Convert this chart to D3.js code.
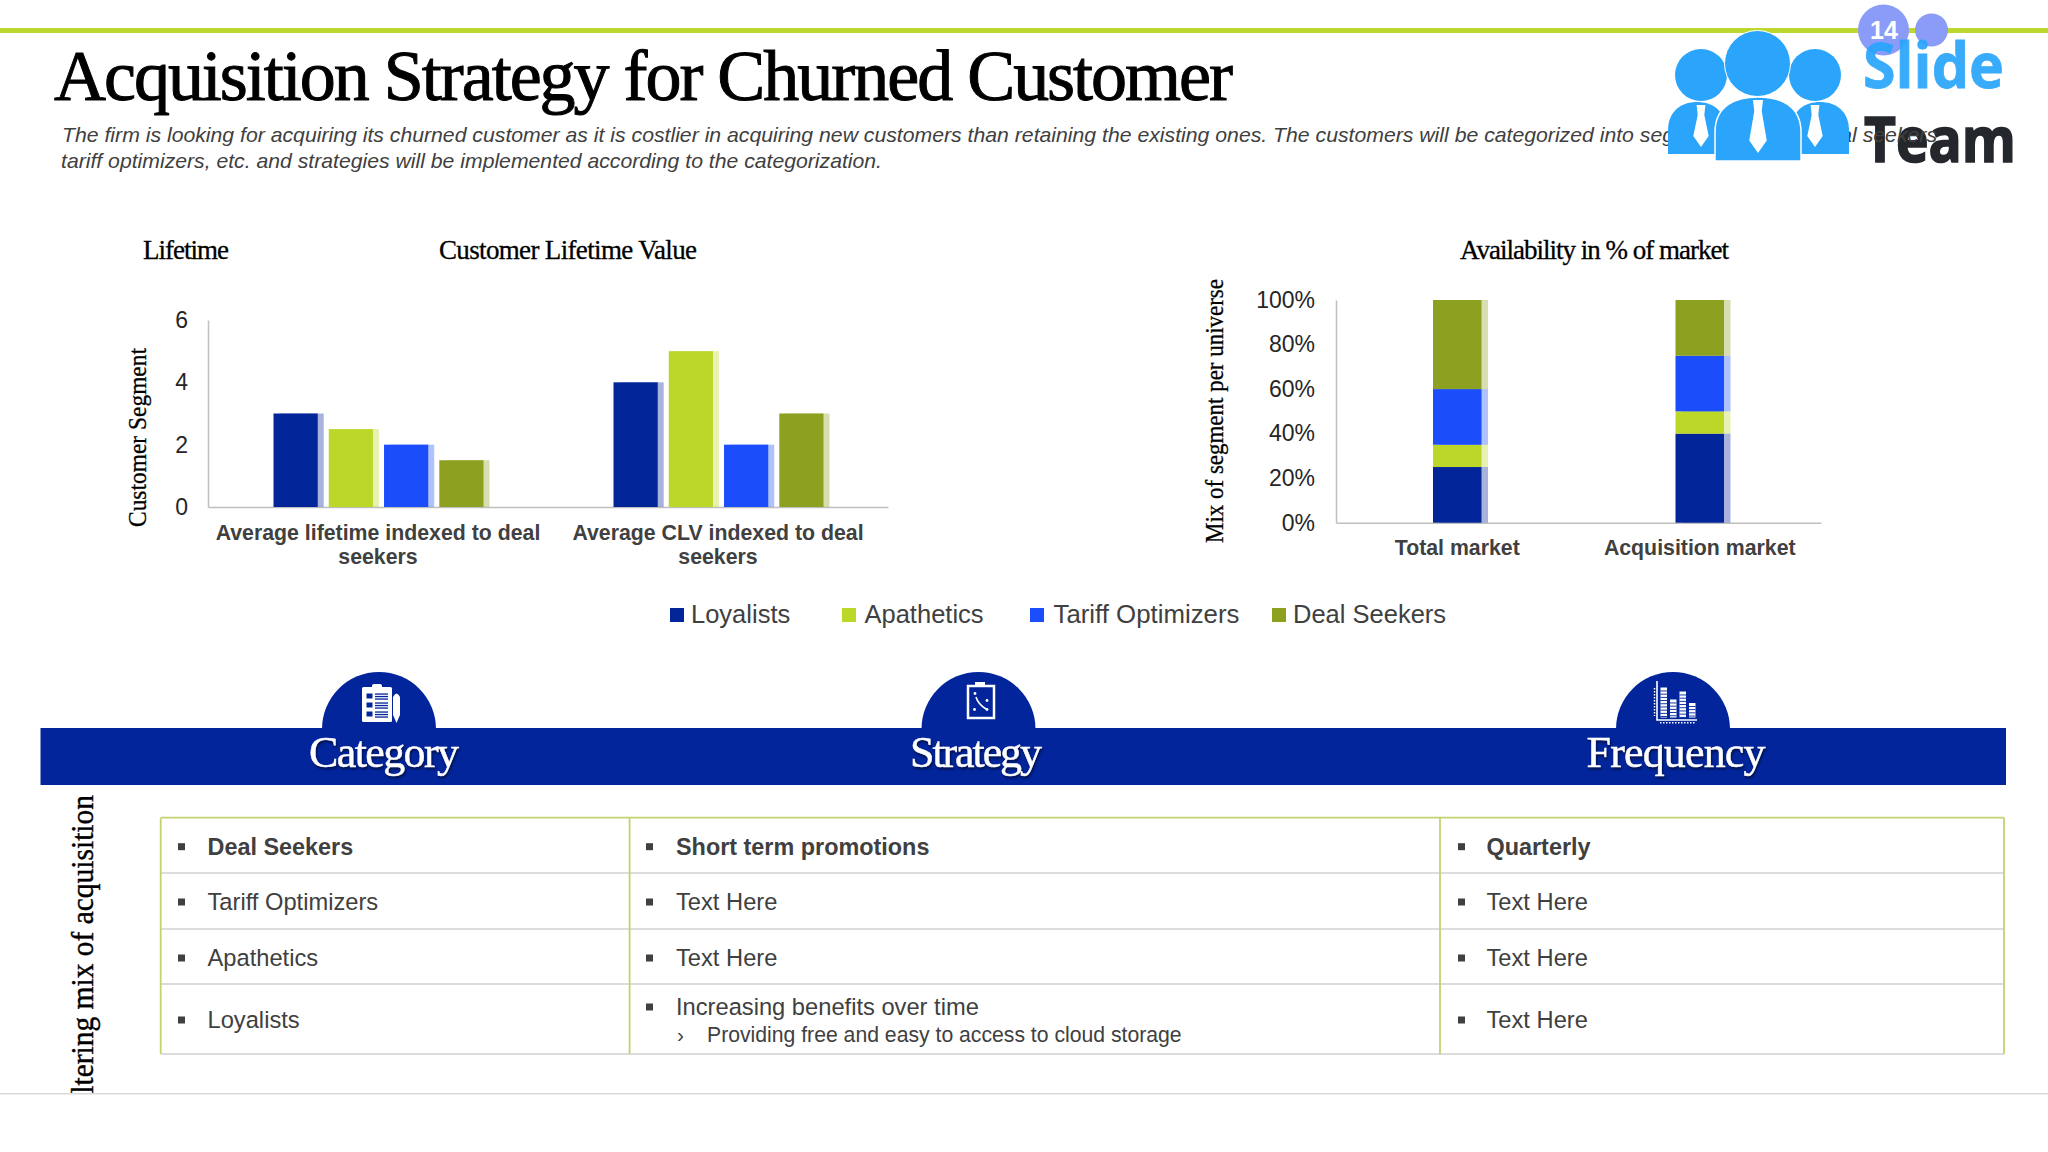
<!DOCTYPE html>
<html>
<head>
<meta charset="utf-8">
<script src="https://d3js.org/d3.v7.min.js"></script>
<style>
  body { margin: 0; background: #fff; }
  svg { display: block; }
  text { font-family: "Liberation Sans", sans-serif; }
  .serif { font-family: "Liberation Serif", serif; }
</style>
</head>
<body>
<div id="slide"></div>
<script>
var w = 2048, h = 1152;

// data
var segments = ["Loyalists", "Apathetics", "Tariff Optimizers", "Deal Seekers"];
var segmentColors = ["#02259a", "#bdd729", "#1b4dfb", "#8ea01f"];

var lifetimeCategories = ["Average lifetime indexed to deal seekers", "Average CLV indexed to deal seekers"];
var loyalistsIndex = [3, 4];
var apatheticsIndex = [2.5, 5];
var tariffIndex = [2, 2];
var dealIndex = [1.5, 3];
var lifetimeTicks = [0, 2, 4, 6];

var marketCategories = ["Total market", "Acquisition market"];
var loyalistsMix = [25, 40];
var apatheticsMix = [10, 10];
var tariffMix = [25, 25];
var dealMix = [40, 25];
var mixTicks = [0, 20, 40, 60, 80, 100];

var tableHeads = ["Category", "Strategy", "Frequency"];
var categoryRows = ["Deal Seekers", "Tariff Optimizers", "Apathetics", "Loyalists"];
var strategyRows = ["Short term promotions", "Text Here", "Text Here", "Increasing benefits over time"];
var frequencyRows = ["Quarterly", "Text Here", "Text Here", "Text Here"];

var svg = d3.select("#slide").append("svg").attr("width", w).attr("height", h);

// top rule
svg.append("rect").attr("x", 0).attr("y", 28).attr("width", w).attr("height", 5).attr("fill", "#bdd72f");

// page number bubbles
svg.append("circle").attr("cx", 1883.5).attr("cy", 30).attr("r", 25.5).attr("fill", "#8a9cf8");
svg.append("circle").attr("cx", 1931.5).attr("cy", 30).attr("r", 16.5).attr("fill", "#8a9cf8");

// logo words (Team sits under the subtitle)
svg.append("text").attr("x", 1863).attr("y", 88).text("Slide")
  .attr("textLength", 141).attr("lengthAdjust", "spacingAndGlyphs")
  .style("font-family", "'Open Sans'").style("font-weight", 700).style("font-size", "62px")
  .attr("fill", "#2aa5fb").attr("stroke", "#2aa5fb").attr("stroke-width", 0.8).attr("opacity", 0.93);
svg.append("text").attr("x", 1864).attr("y", 162).text("Team")
  .attr("textLength", 152).attr("lengthAdjust", "spacingAndGlyphs")
  .style("font-family", "'Open Sans'").style("font-weight", 700).style("font-size", "62px")
  .attr("fill", "#24272c").attr("stroke", "#24272c").attr("stroke-width", 1.6);
svg.append("text").attr("x", 1884).attr("y", 39).attr("text-anchor", "middle").text("14")
  .style("font-weight", 700).style("font-size", "25px").attr("fill", "#fff");

// title + subtitle
svg.append("text").attr("class", "serif").attr("x", 54).attr("y", 100).text("Acquisition Strategy for Churned Customer")
  .attr("textLength", 1179).attr("lengthAdjust", "spacing")
  .style("font-size", "72px").attr("fill", "#000").attr("stroke", "#000").attr("stroke-width", 1);
svg.append("text").attr("x", 62).attr("y", 142)
  .text("The firm is looking for acquiring its churned customer as it is costlier in acquiring new customers than retaining the existing ones. The customers will be categorized into segments such as deal seekers")
  .attr("textLength", 1875).attr("lengthAdjust", "spacingAndGlyphs")
  .style("font-size", "21px").style("font-style", "italic").attr("fill", "#404040");
svg.append("text").attr("x", 61).attr("y", 168)
  .text("tariff optimizers, etc. and strategies will be implemented according to the categorization.")
  .attr("textLength", 821).attr("lengthAdjust", "spacingAndGlyphs")
  .style("font-size", "21px").style("font-style", "italic").attr("fill", "#404040");

// logo people
var logo = svg.append("g").attr("fill", "#2aa5fb");
logo.append("circle").attr("cx", 1701).attr("cy", 75).attr("r", 26);
logo.append("circle").attr("cx", 1815).attr("cy", 75).attr("r", 26);
function body(cx, halfW, top, bottom) {
  return "M" + (cx - halfW) + "," + bottom + " L" + (cx - halfW) + "," + (top + (bottom - top) * 0.55)
    + " C" + (cx - halfW) + "," + (top + 8) + " " + (cx - halfW * 0.5) + "," + top + " " + cx + "," + top
    + " C" + (cx + halfW * 0.5) + "," + top + " " + (cx + halfW) + "," + (top + 8) + " " + (cx + halfW) + "," + (top + (bottom - top) * 0.55)
    + " L" + (cx + halfW) + "," + bottom + " Z";
}
function tie(cx, top, bottom, s) {
  return "M" + (cx - 4 * s) + "," + top + " L" + (cx + 4 * s) + "," + top + " L" + (cx + 3 * s) + "," + (top + 9 * s)
    + " L" + (cx + 7 * s) + "," + (bottom - 10 * s) + " L" + cx + "," + bottom + " L" + (cx - 7 * s) + "," + (bottom - 10 * s)
    + " L" + (cx - 3 * s) + "," + (top + 9 * s) + " Z";
}
logo.append("path").attr("d", body(1697, 29, 102, 154));
logo.append("path").attr("d", body(1820, 29, 102, 154));
logo.append("path").attr("d", tie(1701, 105, 147, 1.1)).attr("fill", "#fff");
logo.append("path").attr("d", tie(1815, 105, 147, 1.1)).attr("fill", "#fff");
logo.append("circle").attr("cx", 1757.5).attr("cy", 63.5).attr("r", 33).attr("stroke", "#fff").attr("stroke-width", 1);
logo.append("path").attr("d", body(1758, 43, 97, 161)).attr("stroke", "#fff").attr("stroke-width", 1.5);
logo.append("path").attr("d", tie(1758, 100, 153, 1.25)).attr("fill", "#fff");

// chart titles
function chartTitle(x, txt, len) {
  svg.append("text").attr("class", "serif").attr("x", x).attr("y", 259).text(txt)
    .attr("textLength", len).attr("lengthAdjust", "spacing")
    .style("font-size", "27px").attr("fill", "#000").attr("stroke", "#000").attr("stroke-width", 0.3);
}
chartTitle(143, "Lifetime", 86);
chartTitle(439, "Customer Lifetime Value", 258);
chartTitle(1460, "Availability in % of market", 269);

function axisTitle(x, yTop, yBottom, txt, size) {
  svg.append("text").attr("class", "serif")
    .attr("transform", "translate(" + x + "," + yBottom + ") rotate(-90)").text(txt)
    .attr("textLength", yBottom - yTop).attr("lengthAdjust", "spacingAndGlyphs")
    .style("font-size", size + "px").attr("fill", "#000").attr("stroke", "#000").attr("stroke-width", 0.3);
}
axisTitle(146, 348, 527, "Customer Segment", 26);
axisTitle(1223, 279, 543, "Mix of segment per universe", 25);

function styleAxis(g, tickSize) {
  g.select(".domain").attr("stroke", "#bfbfbf").attr("stroke-width", 1.5);
  g.selectAll(".tick line").remove();
  g.selectAll(".tick text").style("font-family", "'Liberation Sans'").style("font-size", tickSize + "px").attr("fill", "#262626");
}

// left chart: grouped bars
var x0 = d3.scaleBand().domain(lifetimeCategories).range([208, 888]);
var x1 = d3.scaleBand().domain(segments).range([-104.5, 105.5]).paddingInner(0.2);
var y0 = d3.scaleLinear().domain([0, 6]).range([507, 320]);
var color = d3.scaleOrdinal().domain(segments).range(segmentColors);
var lifetimeSeries = [loyalistsIndex, apatheticsIndex, tariffIndex, dealIndex];

var gy0 = svg.append("g").attr("transform", "translate(208,0)")
  .call(d3.axisLeft(y0).tickValues(lifetimeTicks).tickSize(0).tickPadding(20).tickFormat(d3.format("d")));
styleAxis(gy0, 23);
var gx0 = svg.append("g").attr("transform", "translate(0,507)")
  .call(d3.axisBottom(x0).tickSize(0).tickFormat(""));
styleAxis(gx0, 21);
gx0.selectAll(".tick text").remove();

lifetimeCategories.forEach(function (cat) {
  var t = svg.append("text").attr("text-anchor", "middle").style("font-size", "21.3px").style("font-weight", 700).attr("fill", "#404040");
  var cx = x0(cat) + x0.bandwidth() / 2;
  var cut = cat.lastIndexOf(" ");
  t.append("tspan").attr("x", cx).attr("y", 540).text(cat.slice(0, cut));
  t.append("tspan").attr("x", cx).attr("y", 564).text(cat.slice(cut + 1));
});

var groups = svg.append("g").selectAll("g").data(segments).join("g");
groups.each(function (seg, si) {
  var g = d3.select(this);
  var vals = lifetimeCategories.map(function (c, i) { return { c: c, v: lifetimeSeries[si][i] }; });
  function barX(d) { return x0(d.c) + x0.bandwidth() / 2 + x1(seg); }
  g.selectAll(".shade").data(vals).join("rect").attr("class", "shade")
    .attr("x", function (d) { return barX(d) + 6; })
    .attr("y", function (d) { return y0(d.v); })
    .attr("width", x1.bandwidth())
    .attr("height", function (d) { return y0(0) - y0(d.v); })
    .attr("fill", color(seg)).attr("opacity", 0.35);
  g.selectAll(".bar").data(vals).join("rect").attr("class", "bar")
    .attr("x", barX)
    .attr("y", function (d) { return y0(d.v); })
    .attr("width", x1.bandwidth())
    .attr("height", function (d) { return y0(0) - y0(d.v); })
    .attr("fill", color(seg));
});

// right chart: stacked bars
var x2 = d3.scaleBand().domain(marketCategories).range([1336, 1821]).paddingInner(0.8).paddingOuter(0.4);
var y2 = d3.scaleLinear().domain([0, 100]).range([522.7, 300]);
var mixTable = marketCategories.map(function (c, i) {
  return { market: c, "Loyalists": loyalistsMix[i], "Apathetics": apatheticsMix[i], "Tariff Optimizers": tariffMix[i], "Deal Seekers": dealMix[i] };
});
var stacked = d3.stack().keys(segments)(mixTable);

var gy2 = svg.append("g").attr("transform", "translate(1336,0)")
  .call(d3.axisLeft(y2).tickValues(mixTicks).tickSize(0).tickPadding(21).tickFormat(function (d) { return d + "%"; }));
styleAxis(gy2, 23);
var gx2 = svg.append("g").attr("transform", "translate(0,522.7)")
  .call(d3.axisBottom(x2).tickSize(0).tickPadding(17));
styleAxis(gx2, 21.3);
gx2.selectAll(".tick text").style("font-weight", 700).attr("fill", "#404040");

var layers = svg.append("g").selectAll("g").data(stacked).join("g");
layers.selectAll(".shade").data(function (d) { return d; }).join("rect").attr("class", "shade")
  .attr("x", function (d) { return x2(d.data.market) + 6.5; })
  .attr("y", function (d) { return y2(d[1]); })
  .attr("width", x2.bandwidth())
  .attr("height", function (d) { return y2(d[0]) - y2(d[1]); })
  .attr("fill", function () { return color(d3.select(this.parentNode).datum().key); })
  .attr("opacity", 0.35);
layers.selectAll(".bar").data(function (d) { return d; }).join("rect").attr("class", "bar")
  .attr("x", function (d) { return x2(d.data.market); })
  .attr("y", function (d) { return y2(d[1]); })
  .attr("width", x2.bandwidth())
  .attr("height", function (d) { return y2(d[0]) - y2(d[1]); })
  .attr("fill", function () { return color(d3.select(this.parentNode).datum().key); });

// legend
var legendX = [670, 842, 1030, 1272];
var legendGap = [21, 22.5, 23.5, 21];
var legendSize = [25.5, 25.5, 25.8, 25.5];
var legend = svg.append("g").selectAll("g").data(segments).join("g")
  .attr("transform", function (d, i) { return "translate(" + legendX[i] + ",608)"; });
legend.append("rect").attr("width", 14).attr("height", 14).attr("fill", function (d) { return color(d); });
legend.append("text").attr("x", function (d, i) { return legendGap[i]; }).attr("y", 15).text(function (d) { return d; })
  .style("font-size", function (d, i) { return legendSize[i] + "px"; }).attr("fill", "#404040");

// header band with domes
var headX = [379, 978.5, 1673];
var headTextX = [384, 976, 1676];
var headLen = [150, 132, 179];
var navy = "#02259b";
headX.forEach(function (cx) {
  svg.append("path").attr("d", d3.arc()({ innerRadius: 0, outerRadius: 57, startAngle: -Math.PI / 2, endAngle: Math.PI / 2 }))
    .attr("transform", "translate(" + cx + ",729)").attr("fill", navy);
});
svg.append("rect").attr("x", 40.5).attr("y", 728).attr("width", 1965.5).attr("height", 57).attr("fill", navy);
svg.selectAll(".head").data(tableHeads).join("text").attr("class", "head serif")
  .attr("x", function (d, i) { return headTextX[i] - headLen[i] / 2; }).attr("y", 767)
  .text(function (d) { return d; })
  .attr("textLength", function (d, i) { return headLen[i]; }).attr("lengthAdjust", "spacing")
  .style("font-size", "44px").attr("fill", "#fff").attr("stroke", "#fff").attr("stroke-width", 0.5)
  .style("filter", "drop-shadow(1px 2px 1px rgba(0,0,0,0.55))");

// icons
var ic1 = svg.append("g").attr("fill", "#fff");
ic1.append("rect").attr("x", 362).attr("y", 687).attr("width", 30).attr("height", 35).attr("rx", 1.5);
ic1.append("rect").attr("x", 372).attr("y", 684).attr("width", 10).attr("height", 5).attr("rx", 2);
[693, 702, 711].forEach(function (yy) {
  ic1.append("rect").attr("x", 366).attr("y", yy).attr("width", 7).attr("height", 6).attr("fill", navy).attr("stroke", "#fff");
  [1, 3.5, 6].forEach(function (dy) {
    ic1.append("rect").attr("x", 375).attr("y", yy + dy - 0.6).attr("width", 13).attr("height", 1.3).attr("fill", navy);
  });
});
ic1.append("path").attr("d", "M393,697 Q396.5,690 400,697 L400,715 L396.5,723 L393,715 Z");

var ic2 = svg.append("g");
ic2.append("rect").attr("x", 968).attr("y", 686).attr("width", 26).attr("height", 32).attr("fill", navy).attr("stroke", "#fff").attr("stroke-width", 2.5);
ic2.append("rect").attr("x", 975).attr("y", 682).attr("width", 10).attr("height", 4).attr("fill", "#fff");
[[975, 693.5], [987, 700.5], [974.5, 709.5], [987, 709.5]].forEach(function (p) {
  ic2.append("circle").attr("cx", p[0]).attr("cy", p[1]).attr("r", 1.4).attr("fill", "#fff");
});
ic2.append("path").attr("d", "M976,697 Q978,704 986,709").attr("fill", "none").attr("stroke", "#fff").attr("stroke-width", 1.6);

var ic3 = svg.append("g");
ic3.append("path").attr("d", "M1657,681 L1657,720 L1697,720").attr("fill", "none").attr("stroke", "#fff").attr("stroke-width", 1.6);
ic3.append("line").attr("x1", 1654.5).attr("x2", 1654.5).attr("y1", 688).attr("y2", 716).attr("stroke", "#fff").attr("stroke-width", 1.5).attr("stroke-dasharray", "1.5 1.5");
ic3.append("line").attr("x1", 1660).attr("x2", 1695).attr("y1", 722.7).attr("y2", 722.7).attr("stroke", "#fff").attr("stroke-width", 1.5).attr("stroke-dasharray", "1.5 1.5");
[[1660.5, 687.5], [1670, 699.5], [1679.5, 691.5], [1689, 703]].forEach(function (b) {
  ic3.append("rect").attr("x", b[0]).attr("y", b[1]).attr("width", 6.5).attr("height", 717.5 - b[1])
    .attr("fill", "#fff");
  d3.range(b[1] + 3, 717, 3.2).forEach(function (yy) {
    ic3.append("rect").attr("x", b[0]).attr("y", yy).attr("width", 6.5).attr("height", 0.9).attr("fill", navy);
  });
});

// rotated side label, cut off by the footer line
svg.append("clipPath").attr("id", "sideClip").append("rect").attr("x", 0).attr("y", 780).attr("width", 200).attr("height", 313);
svg.append("g").attr("clip-path", "url(#sideClip)").append("text").attr("class", "serif")
  .attr("transform", "translate(93,795) rotate(-90)").attr("text-anchor", "end")
  .text("Altering mix of acquisition")
  .attr("textLength", 320).attr("lengthAdjust", "spacingAndGlyphs")
  .style("font-size", "32px").attr("fill", "#000").attr("stroke", "#000").attr("stroke-width", 0.4);
svg.append("rect").attr("x", 0).attr("y", 1093).attr("width", w).attr("height", 1.5).attr("fill", "#d9d9d9");

// table
var colX = [160.7, 629.6, 1440, 2004];
var rowY = [817.7, 873, 929, 984, 1054];
var baseY = [854.7, 910, 966, 1028];
var bulletX = [178, 646, 1458];
var textX = [207.5, 676, 1486.5];
var tableCols = [categoryRows, strategyRows, frequencyRows];

svg.selectAll(".hline").data(rowY.slice(1)).join("line").attr("class", "hline")
  .attr("x1", colX[0]).attr("x2", colX[3]).attr("y1", function (d) { return d; }).attr("y2", function (d) { return d; })
  .attr("stroke", "#dcdcdc").attr("stroke-width", 1.8);
svg.selectAll(".vline").data(colX).join("line").attr("class", "vline")
  .attr("x1", function (d) { return d; }).attr("x2", function (d) { return d; }).attr("y1", rowY[0]).attr("y2", rowY[4])
  .attr("stroke", "#c5d26f").attr("stroke-width", 1.8);
svg.append("line").attr("x1", colX[0]).attr("x2", colX[3]).attr("y1", rowY[0]).attr("y2", rowY[0])
  .attr("stroke", "#c5d26f").attr("stroke-width", 1.8);

tableCols.forEach(function (col, ci) {
  col.forEach(function (txt, ri) {
    var yy = baseY[ri];
    if (ci == 1 && ri == 3) yy = 1015; // this cell has a second line
    svg.append("rect").attr("x", bulletX[ci]).attr("y", yy - 11.5).attr("width", 7).attr("height", 7).attr("fill", "#404040");
    svg.append("text").attr("x", textX[ci]).attr("y", yy).text(txt)
      .style("font-size", ri == 0 ? "23.4px" : "23.7px").style("font-weight", ri == 0 ? 700 : 400).attr("fill", "#404040");
  });
});
svg.append("text").attr("x", 677).attr("y", 1042).text("›").style("font-size", "21px").attr("fill", "#404040");
svg.append("text").attr("x", 707).attr("y", 1042).text("Providing free and easy to access to cloud storage")
  .style("font-size", "21.2px").attr("fill", "#404040");
</script>
</body>
</html>
